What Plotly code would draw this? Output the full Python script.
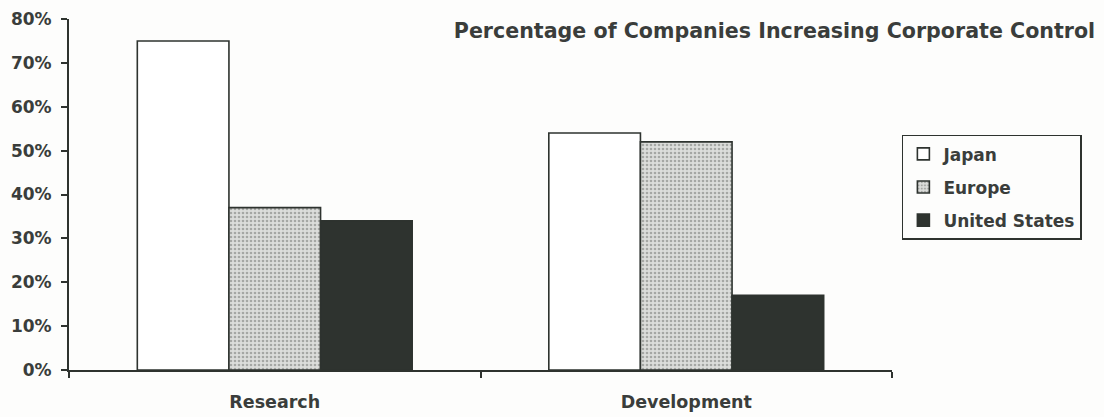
import plotly.graph_objects as go

# Share of companies increasing corporate control, by stage and region
categories = ["Research", "Development"]
japan = [0.75, 0.54]
europe = [0.37, 0.52]
united_states = [0.34, 0.17]

ink = "#2e332f"
text_color = "#3a3d3b"
paper = "#fdfdfc"
font_family = "DejaVu Sans, Liberation Sans, Arial, sans-serif"

fig = go.Figure()
fig.add_trace(go.Bar(
    name="Japan", x=categories, y=japan, legendgroup="jp",
    marker=dict(color="#ffffff", line=dict(color=ink, width=1.6)),
))
fig.add_trace(go.Bar(
    name="Europe", x=categories, y=europe, legendgroup="eu",
    marker=dict(
        color="#d9dad8",
        line=dict(color=ink, width=1.6),
        pattern=dict(shape=".", fgcolor="#6d716e", bgcolor="#dcdddb", size=4, solidity=0.35),
    ),
))
fig.add_trace(go.Bar(
    name="United States", x=categories, y=united_states, legendgroup="us",
    marker=dict(color=ink, line=dict(color=ink, width=1.6)),
))

fig.update_layout(
    width=1104, height=417,
    margin=dict(l=69, r=212, t=19, b=47, autoexpand=False),
    paper_bgcolor=paper, plot_bgcolor=paper,
    barmode="group", bargap=0.332, bargroupgap=0,
    font=dict(family=font_family, size=17, color=text_color, weight="bold"),
    title=dict(
        text="Percentage of Companies Increasing Corporate Control",
        xref="container", yref="container", x=0.992, y=0.925,
        xanchor="right", yanchor="middle",
        font=dict(family=font_family, size=20.6, color=text_color, weight="bold"),
    ),
    legend=dict(
        x=1.012, y=0.67, xanchor="left", yanchor="top",
        bordercolor=ink, borderwidth=1.5, bgcolor=paper,
        traceorder="grouped", tracegroupgap=8, itemwidth=30,
        font=dict(family=font_family, size=17, color=text_color, weight="bold"),
    ),
    showlegend=True,
)
fig.update_yaxes(
    range=[0, 0.8], dtick=0.1, tickformat=".0%", automargin=False,
    showgrid=False, zeroline=False,
    showline=True, linecolor=ink, linewidth=2,
    ticks="outside", ticklen=6, tickcolor=ink, tickwidth=2,
    ticklabelstandoff=6,
    tickfont=dict(family=font_family, size=17, color=text_color, weight="bold"),
)
fig.update_xaxes(
    automargin=False,
    showgrid=False, showline=True, linecolor=ink, linewidth=2,
    ticks="outside", tickson="boundaries", ticklen=6, tickcolor=ink, tickwidth=2,
    ticklabelstandoff=15,
    tickfont=dict(family=font_family, size=17.5, color=text_color, weight="bold"),
)

fig.write_html("out.html")
